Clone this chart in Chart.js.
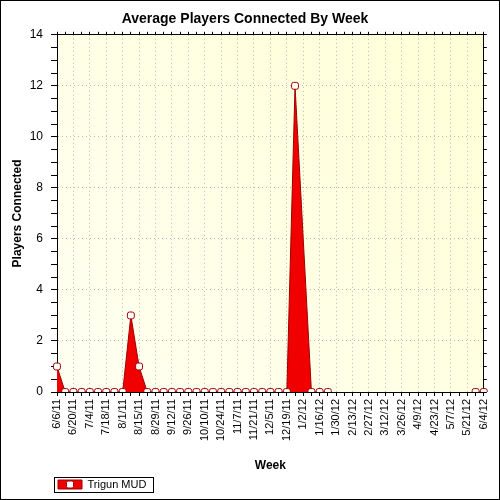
<!DOCTYPE html>
<html>
<head>
<meta charset="utf-8">
<script src="https://cdn.jsdelivr.net/npm/chart.js@4/dist/chart.umd.min.js"></script>
<style>html,body{margin:0;padding:0;background:#fff;}canvas{display:block;}</style>
</head>
<body>
<canvas id="c" width="500" height="500"></canvas>
<script>
// All weeks on the category axis
const weeks = ['6/6/11','6/13/11','6/20/11','6/27/11','7/4/11','7/11/11','7/18/11','7/25/11','8/1/11','8/8/11',
  '8/15/11','8/22/11','8/29/11','9/5/11','9/12/11','9/19/11','9/26/11','10/3/11','10/10/11','10/17/11',
  '10/24/11','10/31/11','11/7/11','11/14/11','11/21/11','11/28/11','12/5/11','12/12/11','12/19/11','12/26/11',
  '1/2/12','1/9/12','1/16/12','1/23/12','1/30/12','2/6/12','2/13/12','2/20/12','2/27/12','3/5/12',
  '3/12/12','3/19/12','3/26/12','4/2/12','4/9/12','4/16/12','4/23/12','4/30/12','5/7/12','5/14/12',
  '5/21/12','5/28/12','6/4/12'];
// Weeks that have a sample (null = break in the series)
const sampleWeeks = ['6/6/11','6/13/11','6/20/11','6/27/11','7/4/11','7/11/11','7/18/11','7/25/11','8/1/11','8/8/11',
  '8/15/11','8/22/11','8/29/11','9/5/11','9/12/11','9/19/11','9/26/11','10/3/11','10/10/11','10/17/11',
  '10/24/11','10/31/11','11/7/11','11/14/11','11/21/11','11/28/11','12/5/11','12/12/11','12/19/11','12/26/11',
  '1/9/12','1/16/12','1/23/12','1/30/12','5/28/12','6/4/12'];
const sampleValues = [1,0,0,0,0,0,0,0,0,3,
  1,0,0,0,0,0,0,0,0,0,
  0,0,0,0,0,0,0,0,0,12,
  0,0,0,null,0,0];
const seriesName = 'Trigun MUD';
const yTicks = [0,2,4,6,8,10,12,14];

const fillRed = 'rgb(240,0,0)';
const darkRed = 'rgb(160,0,0)';
const gridGray = 'rgba(185,185,185,1)';

const bgPlugin = {
  id: 'bg',
  beforeDraw(chart) {
    const {ctx, chartArea: a} = chart;
    ctx.save();
    ctx.fillStyle = '#fff';
    ctx.fillRect(0, 0, chart.width, chart.height);
    const g = ctx.createLinearGradient(a.left, a.bottom, a.right, a.top);
    g.addColorStop(0, '#FFFFF2');
    g.addColorStop(1, '#FFFFD6');
    ctx.fillStyle = g;
    ctx.fillRect(a.left, a.top, a.right - a.left, a.bottom - a.top);
    ctx.restore();
  },
  afterLayout(chart) {
    if (chart.legend) { chart.legend.left += 52; chart.legend.right += 52; }
  },
  afterDraw(chart) {
    const ctx = chart.ctx;
    ctx.save();
    ctx.strokeStyle = '#000';
    ctx.lineWidth = 1;
    ctx.strokeRect(0.5, 0.5, 499, 499);
    const lg = chart.legend;
    if (lg && lg.legendHitBoxes && lg.legendHitBoxes[0]) {
      const hb = lg.legendHitBoxes[0];
      ctx.strokeRect(54.5, Math.round(hb.top + hb.height / 2) - 7.5, 99, 15);
      const cx = hb.left + 12, cy = hb.top + hb.height / 2;
      ctx.fillStyle = '#fff';
      ctx.strokeStyle = darkRed;
      ctx.beginPath();
      ctx.roundRect(cx - 3.5, cy - 3.5, 7, 7, 1.5);
      ctx.fill();
      ctx.stroke();
    }
    ctx.restore();
  }
};

Chart.defaults.font.family = "'Liberation Sans', Arial, sans-serif";
Chart.defaults.color = '#000';

new Chart(document.getElementById('c'), {
  type: 'line',
  data: {
    labels: weeks,
    datasets: [{
      label: seriesName,
      data: sampleWeeks.map((w, i) => ({x: w, y: sampleValues[i]})),
      fill: 'origin',
      backgroundColor: fillRed,
      borderColor: darkRed,
      borderWidth: 1,
      tension: 0,
      spanGaps: false,
      pointStyle: 'rectRounded',
      pointRadius: 4,
      pointBackgroundColor: '#fff',
      pointBorderColor: darkRed,
      pointBorderWidth: 1
    }]
  },
  options: {
    responsive: false,
    animation: false,
    devicePixelRatio: 1,
    layout: {padding: {left: 0, right: 10, top: 0, bottom: 0}},
    plugins: {
      title: {
        display: true,
        text: 'Average Players Connected By Week',
        font: {size: 14, weight: 'bold'},
        padding: {top: 11, bottom: 4}
      },
      legend: {
        position: 'bottom',
        align: 'start',
        labels: {boxWidth: 24, boxHeight: 9, font: {size: 11}, padding: 6, color: '#000'}
      },
      tooltip: {enabled: false}
    },
    scales: {
      x: {
        type: 'category',
        position: 'bottom',
        offset: false,
        afterFit(s) { s.height = 81; },
        border: {display: true, color: '#000', width: 1, dash: [1, 3]},
        grid: {
          color: (c) => (c.index % 2 === 0 && c.index > 0) ? gridGray : 'rgba(0,0,0,0)',
          tickColor: '#000',
          tickLength: 4,
          drawTicks: true
        },
        ticks: {
          autoSkip: false,
          maxRotation: 90,
          minRotation: 90,
          padding: 3,
          font: {size: 11},
          callback(v, i) { return i % 2 === 0 ? this.getLabelForValue(v) : ''; }
        },
        title: {display: true, text: 'Week', font: {size: 12, weight: 'bold'}, padding: {top: 2, bottom: 0}}
      },
      x2: {
        type: 'category',
        position: 'top',
        offset: false,
        afterFit(s) { s.height = 3; },
        border: {display: true, color: '#000', width: 1},
        grid: {drawOnChartArea: false, tickColor: '#000', tickLength: 3},
        ticks: {display: false, autoSkip: false}
      },
      y: {
        type: 'linear',
        position: 'left',
        min: 0,
        max: 14,
        afterFit(s) { s.width = 57; },
        border: {display: true, color: '#000', width: 1, dash: [1, 3]},
        grid: {
          color: (c) => (c.tick && yTicks.includes(c.tick.value) && c.tick.value > 0 && c.tick.value < 14) ? gridGray : 'rgba(0,0,0,0)',
          tickColor: '#000',
          tickLength: 6
        },
        ticks: {
          stepSize: 0.5,
          autoSkip: false,
          padding: 8,
          font: {size: 12},
          callback(v) { return yTicks.includes(v) ? String(v) : ''; }
        },
        title: {display: true, text: 'Players Connected', font: {size: 12, weight: 'bold'}, padding: {top: 10, bottom: 0}}
      },
      y2: {
        type: 'linear',
        position: 'right',
        min: 0,
        max: 14,
        afterFit(s) { s.width = 6; },
        border: {display: true, color: '#000', width: 1},
        grid: {drawOnChartArea: false, tickColor: '#000', tickLength: 3},
        ticks: {display: false, stepSize: 0.5, autoSkip: false}
      }
    }
  },
  plugins: [bgPlugin]
});
</script>
</body>
</html>
